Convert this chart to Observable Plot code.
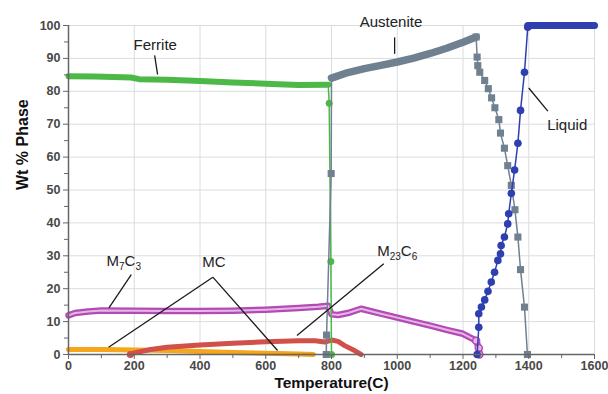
<!DOCTYPE html>
<html><head><meta charset="utf-8">
<script src="https://cdn.jsdelivr.net/npm/d3@7"></script>
<script src="https://cdn.jsdelivr.net/npm/@observablehq/plot@0.6"></script>
<style>
html,body{margin:0;padding:0;background:#fff;}
#chart{width:608px;height:394px;}
</style></head>
<body><div id="chart"></div>
<script>
// ---- data ----
const ferriteT = [0, 80, 190, 215, 300, 400, 500, 600, 700, 790];
const ferriteV = [84.6, 84.5, 84.2, 83.7, 83.5, 83.1, 82.7, 82.3, 81.9, 82.0];
const ferriteDropT = [790, 793, 798, 800];
const ferriteDropV = [82, 76.4, 28.3, 0];

const austRiseT = [784, 785, 799, 800];
const austRiseV = [0, 5.9, 55, 84];
const austT = [800, 850, 900, 950, 1000, 1050, 1100, 1150, 1200, 1240];
const austV = [84, 85.7, 86.9, 87.9, 88.9, 90.1, 91.5, 93.1, 94.9, 96.5];
const austDropT = [1240, 1243, 1245, 1251, 1266, 1277, 1287, 1297, 1309, 1314, 1326, 1336, 1347, 1358, 1367, 1375, 1387, 1396];
const austDropV = [96.5, 90.4, 87.8, 85.8, 83.3, 80.8, 78, 75, 71.4, 67.3, 62.7, 57.4, 51.4, 44, 35.7, 25.8, 14.4, 0];

const liquidT = [1243, 1248, 1248, 1256, 1266, 1276, 1286, 1296, 1306, 1314, 1316, 1326, 1336, 1339, 1347, 1357, 1367, 1375, 1387, 1397];
const liquidV = [0, 8.3, 12.4, 14.4, 16.6, 19.2, 22, 25, 28.6, 30.6, 33.1, 35.7, 39.7, 42.8, 49, 56.1, 64.2, 74.2, 85.8, 99.5];
const liquidFlatT = [1397, 1600];
const liquidFlatV = [100, 100];

const m7c3T = [0, 20, 60, 100, 200, 300, 400, 500, 600, 700, 760, 790, 800, 820, 850, 890, 950, 1000, 1050, 1100, 1150, 1200, 1240, 1248, 1250];
const m7c3V = [11.9, 12.6, 13.1, 13.4, 13.3, 13.2, 13.2, 13.3, 13.6, 14.1, 14.5, 14.8, 12.2, 12.0, 12.6, 13.9, 12.4, 11.2, 10.0, 8.8, 7.5, 6.3, 4.2, 2.0, 0];

const m23c6T = [188, 200, 250, 300, 400, 500, 600, 700, 750, 780, 800, 820, 840, 870, 890];
const m23c6V = [0, 0.5, 1.5, 2.2, 2.9, 3.4, 3.9, 4.2, 4.2, 3.8, 4.4, 4.0, 2.7, 1.2, 0];

const mcT = [0, 100, 200, 300, 400, 500, 600, 700, 745];
const mcV = [1.5, 1.5, 1.4, 1.2, 0.9, 0.6, 0.4, 0.15, 0];

const xTicks = [0, 200, 400, 600, 800, 1000, 1200, 1400, 1600];
const yTicks = [0, 10, 20, 30, 40, 50, 60, 70, 80, 90, 100];

// labels & leader lines (data coordinates)
const labelText = ["Ferrite", "Austenite", "Liquid", "M7C3", "MC", "M23C6"];
const labelT = [264, 981, 1517, 168, 442, 1000];
const labelV = [93.9, 101, 69.6, 28.3, 28, 31.3];
const leaderT1 = [262, 992, 1400, 191, 439, 439, 959];
const leaderV1 = [90.9, 96.4, 81, 24.3, 23.5, 23.5, 27.6];
const leaderT2 = [271, 992, 1458, 123, 122, 636, 695];
const leaderV2 = [85.1, 91.4, 74, 14.2, 2.2, 1.2, 5.8];

// ---- build tables ----
const zip = (T, V) => T.map((t, i) => ({t, v: V[i]}));
const ferrite = zip(ferriteT, ferriteV);
const ferriteDrop = zip(ferriteDropT, ferriteDropV);
const austRise = zip(austRiseT, austRiseV);
const aust = zip(austT, austV);
const austDrop = zip(austDropT, austDropV);
const liquid = zip(liquidT, liquidV);
const liquidFlat = zip(liquidFlatT, liquidFlatV);
const m7c3 = zip(m7c3T, m7c3V);
const m23c6 = zip(m23c6T, m23c6V);
const mc = zip(mcT, mcV);
const labels = labelText.map((s, i) => ({s, t: labelT[i], v: labelV[i]}));
const leaders = leaderT1.map((t, i) => ({t1: t, v1: leaderV1[i], t2: leaderT2[i], v2: leaderV2[i]}));

const GREEN = "#4cb848", GRAY = "#6f8190", BLUE = "#2f3fb0", PURPLE = "#b24cb4",
      PINK = "#e6b6e6", RED = "#d0504a", ORANGE = "#f5a61a";
const font = "Liberation Sans, Arial, Helvetica, sans-serif";

const plot = Plot.plot({
  width: 608, height: 394,
  marginLeft: 68, marginRight: 14, marginTop: 25, marginBottom: 40,
  style: {fontFamily: font, background: "#fff", overflow: "visible"},
  x: {domain: [0, 1600]},
  y: {domain: [0, 100]},
  marks: [
    Plot.gridX(xTicks, {stroke: "#d8dde0", strokeOpacity: 1}),
    Plot.gridY(yTicks, {stroke: "#d8dde0", strokeOpacity: 1}),
    // MC
    Plot.line(mc, {x: "t", y: "v", stroke: ORANGE, strokeWidth: 5}),
    // M23C6
    Plot.line(m23c6, {x: "t", y: "v", stroke: RED, strokeWidth: 5}),
    Plot.dot(m23c6.slice(0, 1), {x: "t", y: "v", fill: RED, r: 3.5}),
    // M7C3 (chain of open circles)
    Plot.line(m7c3, {x: "t", y: "v", stroke: PURPLE, strokeWidth: 6.5}),
    Plot.line(m7c3, {x: "t", y: "v", stroke: PINK, strokeWidth: 2}),
    Plot.dot(m7c3.slice(-3), {x: "t", y: "v", stroke: PURPLE, fill: PINK, r: 3.5, strokeWidth: 1.5}),
    // Ferrite
    Plot.line(ferrite, {x: "t", y: "v", stroke: GREEN, strokeWidth: 6}),
    Plot.line(ferriteDrop, {x: "t", y: "v", stroke: GREEN, strokeWidth: 1.5}),
    Plot.dot(ferriteDrop.slice(1), {x: "t", y: "v", fill: GREEN, r: 3.5}),
    // Austenite
    Plot.line(austRise, {x: "t", y: "v", stroke: GRAY, strokeWidth: 1.5}),
    Plot.dot(austRise.slice(0, 3), {x: "t", y: "v", fill: GRAY, symbol: "square", r: 4}),
    Plot.line(aust, {x: "t", y: "v", stroke: GRAY, strokeWidth: 7.5}),
    Plot.line(austDrop, {x: "t", y: "v", stroke: GRAY, strokeWidth: 1.5}),
    Plot.dot(austDrop, {x: "t", y: "v", fill: GRAY, symbol: "square", r: 4}),
    // Liquid
    Plot.line(liquid, {x: "t", y: "v", stroke: BLUE, strokeWidth: 1.5}),
    Plot.dot(liquid, {x: "t", y: "v", fill: BLUE, r: 3.8}),
    Plot.line(liquidFlat, {x: "t", y: "v", stroke: BLUE, strokeWidth: 7, strokeLinecap: "round"}),
    // axes lines
    Plot.ruleX([0], {stroke: "#666", strokeWidth: 1.5}),
    Plot.ruleY([0], {stroke: "#666", strokeWidth: 1.5}),
    Plot.axisX({ticks: xTicks, tickFormat: "d", tickSize: 5, tickPadding: 2, fontSize: 12.5, fontWeight: "bold", color: "#484848", label: null, stroke: "#666"}),
    Plot.axisX({ticks: d3.range(100, 1600, 200), tickSize: 4, tickFormat: () => "", label: null, stroke: "#666"}),
    Plot.axisY({ticks: yTicks, tickSize: 5, tickPadding: 3, fontSize: 12.5, fontWeight: "bold", color: "#484848", label: null, stroke: "#666"}),
    Plot.axisY({ticks: d3.range(5, 100, 10), tickSize: 4, tickFormat: () => "", label: null, stroke: "#666"}),
    // annotation
    Plot.link(leaders, {x1: "t1", y1: "v1", x2: "t2", y2: "v2", stroke: "#1a1a1a", strokeWidth: 1.3}),
    Plot.text(labels, {x: "t", y: "v", text: "s", fontSize: 15, fill: "#222", clip: false}),
    Plot.text(["Wt % Phase"], {frameAnchor: "left", dx: -46, rotate: -90, fontSize: 16, fontWeight: "bold", fill: "#111"}),
    Plot.text(["Temperature(C)"], {frameAnchor: "bottom", dy: 33, fontSize: 15.5, fontWeight: "bold", fill: "#111"})
  ]
});

// subscripts
d3.select(plot).selectAll("text").each(function() {
  const s = this.textContent;
  const m = /^M(\d+)C(\d+)$/.exec(s);
  if (m) {
    const el = d3.select(this);
    el.text(null);
    el.append("tspan").text("M");
    el.append("tspan").text(m[1]).attr("font-size", 10).attr("dy", 4);
    el.append("tspan").text("C").attr("dy", -4);
    el.append("tspan").text(m[2]).attr("font-size", 10).attr("dy", 4);
  }
});
document.getElementById("chart").appendChild(plot);
</script></body></html>
